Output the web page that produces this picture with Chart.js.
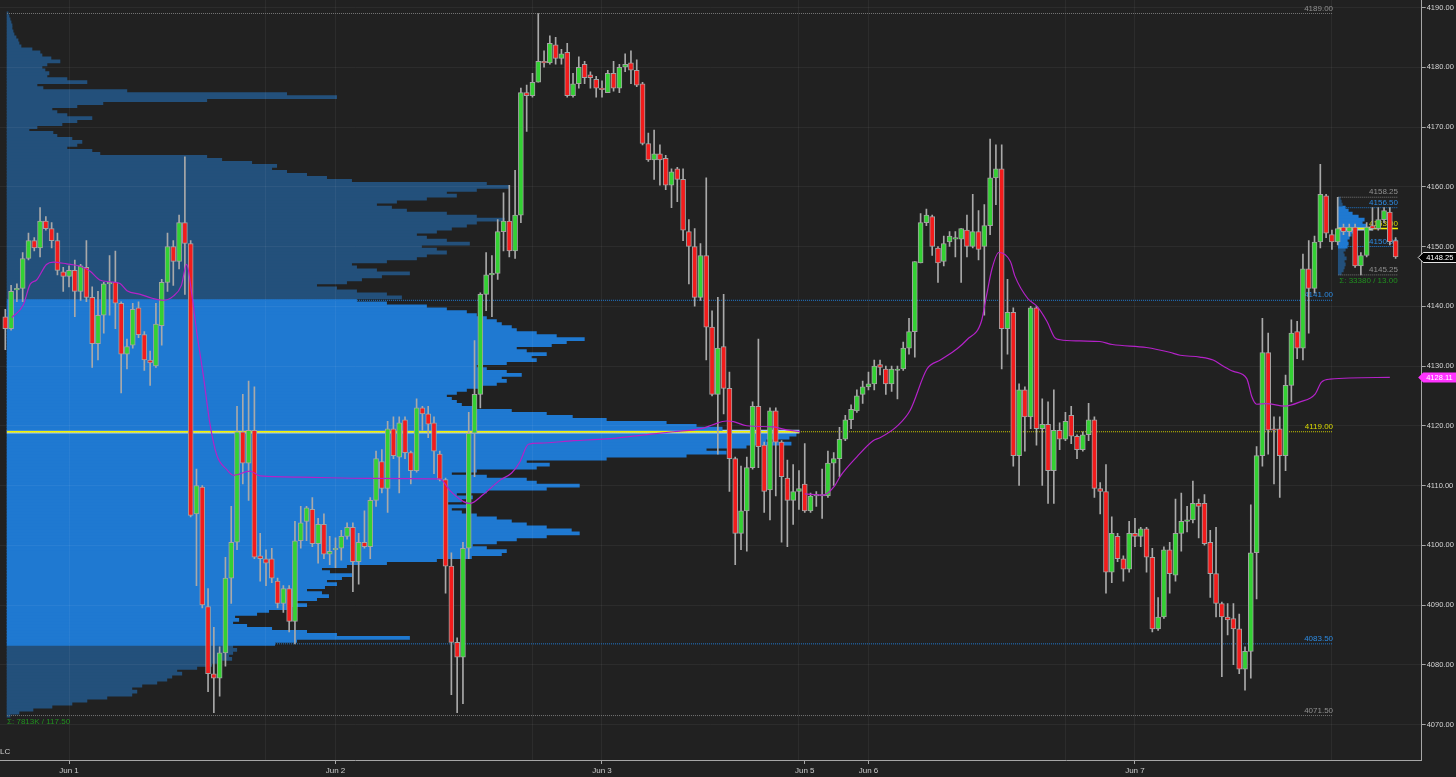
<!DOCTYPE html>
<html>
<head>
<meta charset="utf-8">
<title>ES 30 min - volume profile</title>
<style>
  html, body { margin: 0; padding: 0; background: #212121; }
  #wrap { position: relative; width: 1456px; height: 777px; background: #212121; overflow: hidden; }
  .layer { position: absolute; left: 0; top: 0; width: 1456px; height: 777px; }
</style>
<script src="https://cdn.jsdelivr.net/npm/chart.js@4.4.1/dist/chart.umd.min.js"></script>
</head>
<body>
<div id="wrap">
  <div class="layer"><canvas id="profileChart"></canvas></div>
  <div class="layer"><canvas id="priceChart"></canvas></div>
</div>
<script>
// ---------- data (30 min bars, index 0 = first bar on screen) ----------
const xTickIdx  = [11, 45, 57, 91, 103, 137, 138, 149, 183, 195, 229];
const xTickText = ['Jun 1', '', 'Jun 2', '', 'Jun 3', '', 'Jun 5', 'Jun 6', '', 'Jun 7', ''];
const yTicks = [4070, 4080, 4090, 4100, 4110, 4120, 4130, 4140, 4150, 4160, 4170, 4180, 4190];

const openP = [
  4138.25,4136.25,4142.75,4143.0,4148.0,4151.0,4149.75,4154.25,4153.0,4151.0,
  4145.75,4145.0,4146.0,4142.5,4146.5,4141.5,4133.75,4138.5,4143.75,4144.0,
  4140.5,4132.0,4133.5,4139.75,4135.25,4131.0,4130.0,4136.75,4144.0,4150.0,
  4147.5,4154.0,4150.5,4105.25,4109.75,4089.75,4078.5,4077.75,4082.0,4094.5,
  4100.5,4119.0,4113.75,4119.25,4098.25,4097.75,4097.75,4094.0,4090.25,4092.75,
  4087.25,4100.75,4104.0,4106.0,4100.25,4103.5,4098.5,4099.25,4099.5,4101.5,
  4103.0,4097.25,4100.5,4099.75,4107.5,4114.0,4109.5,4119.5,4114.75,4121.0,
  4115.5,4112.5,4123.0,4122.0,4120.5,4115.25,4111.0,4096.5,4083.75,4081.25,
  4099.5,4118.75,4125.25,4142.0,4145.25,4145.5,4152.5,4154.25,4149.25,4155.25,
  4175.75,4175.25,4177.5,4181.0,4180.75,4183.75,4181.5,4182.5,4175.25,4177.25,
  4180.5,4178.75,4178.0,4176.5,4175.75,4179.0,4176.5,4180.0,4180.75,4179.5,
  4177.25,4167.25,4164.5,4165.5,4164.75,4160.25,4163.0,4161.25,4152.5,4150.0,
  4141.5,4148.5,4136.5,4125.25,4133.25,4126.25,4114.5,4102.0,4105.75,4113.0,
  4123.25,4116.75,4109.25,4122.5,4117.25,4111.25,4107.5,4109.0,4110.25,4105.75,
  4108.25,4108.25,4108.25,4113.75,4114.5,4117.75,4121.0,4122.5,4125.25,4126.5,
  4127.0,4130.25,4129.5,4127.0,4129.25,4129.5,4133.0,4135.75,4147.25,4154.0,
  4155.0,4149.75,4147.5,4150.75,4151.25,4151.25,4152.75,4150.0,4152.5,4150.0,
  4153.5,4161.5,4163.0,4136.25,4139.0,4115.0,4126.0,4121.5,4139.75,4119.5,
  4120.25,4112.5,4119.25,4117.75,4121.75,4118.25,4116.0,4118.5,4121.0,4109.5,
  4109.0,4095.5,4101.5,4097.75,4096.0,4102.0,4101.5,4102.75,4098.0,4086.0,
  4088.0,4099.25,4095.0,4102.0,4104.0,4104.25,4107.0,4107.0,4100.5,4095.25,
  4090.25,4088.0,4087.75,4086.0,4079.25,4082.25,4098.75,4115.0,4132.25,4119.5,
  4119.5,4115.0,4126.75,4135.75,4133.0,4146.25,4143.0,4150.75,4158.5,4152.0,
  4150.75,4153.25,4152.5,4153.25,4146.75,4148.5,4153.5,4153.0,4154.5,4155.75,4151.0
];
const highP = [
  4139.5,4143.5,4143.75,4149.0,4152.25,4151.5,4156.5,4155.0,4154.0,4152.25,
  4146.5,4146.75,4147.75,4147.0,4151.0,4143.25,4142.5,4144.0,4148.5,4149.25,
  4140.75,4134.5,4140.5,4140.75,4135.75,4132.5,4140.5,4144.5,4152.25,4151.0,
  4155.25,4165.0,4151.0,4112.75,4110.0,4092.75,4086.25,4083.0,4098.0,4106.5,
  4123.25,4125.25,4127.5,4126.5,4102.0,4099.25,4099.5,4094.5,4093.25,4093.25,
  4104.0,4106.5,4106.5,4108.0,4104.5,4105.25,4101.5,4101.25,4102.5,4103.75,
  4103.75,4102.0,4105.75,4108.0,4115.75,4116.0,4120.75,4121.5,4121.5,4121.5,
  4115.75,4124.5,4123.25,4123.25,4121.5,4115.75,4111.25,4098.75,4084.5,4100.5,
  4122.25,4134.25,4142.25,4149.0,4148.5,4154.5,4159.0,4160.25,4162.75,4176.5,
  4177.0,4179.0,4189.0,4182.75,4185.25,4185.0,4183.0,4184.0,4179.0,4181.75,
  4181.0,4179.25,4178.5,4177.75,4179.5,4181.0,4180.5,4182.25,4182.75,4181.25,
  4177.5,4169.0,4169.5,4167.0,4165.25,4163.0,4163.25,4163.0,4154.5,4153.0,
  4150.5,4161.5,4139.25,4141.5,4142.0,4129.0,4114.75,4113.25,4114.75,4124.0,
  4134.5,4117.25,4123.0,4123.0,4117.5,4114.25,4113.5,4112.5,4117.0,4108.75,
  4109.0,4112.75,4115.75,4115.5,4119.75,4121.75,4123.5,4126.0,4127.5,4129.0,
  4131.0,4131.0,4130.0,4130.0,4130.0,4134.0,4138.0,4147.5,4155.5,4156.25,
  4155.25,4150.0,4151.75,4152.5,4152.5,4153.0,4155.25,4158.75,4156.0,4157.0,
  4168.0,4167.0,4167.0,4144.5,4139.75,4127.0,4126.5,4140.0,4140.0,4124.5,
  4124.0,4126.0,4120.5,4122.25,4123.25,4118.5,4119.0,4123.75,4121.5,4110.5,
  4113.5,4104.75,4102.0,4098.25,4104.0,4104.5,4103.0,4103.0,4099.5,4091.25,
  4099.75,4100.5,4107.75,4108.75,4106.5,4110.75,4107.75,4108.5,4102.5,4103.0,
  4090.5,4090.25,4090.25,4088.5,4083.0,4106.75,4116.5,4138.0,4135.5,4121.5,
  4121.5,4128.5,4137.75,4137.5,4148.75,4151.0,4151.75,4163.75,4158.75,4152.75,
  4158.25,4153.75,4153.75,4153.75,4149.0,4154.0,4156.5,4156.5,4156.5,4156.5,4151.5
];
const lowP = [
  4132.75,4136.0,4140.75,4140.75,4147.75,4149.25,4148.25,4152.75,4149.75,4145.25,
  4142.5,4143.25,4138.25,4141.0,4140.75,4129.75,4131.0,4135.5,4138.5,4136.25,
  4125.5,4129.5,4133.0,4134.75,4129.25,4126.75,4129.75,4133.5,4142.5,4143.5,
  4146.25,4142.0,4104.75,4093.25,4089.5,4075.5,4072.0,4074.75,4079.75,4090.25,
  4099.25,4110.25,4107.5,4097.75,4094.0,4093.25,4093.75,4089.5,4088.75,4085.5,
  4083.5,4099.5,4100.75,4099.75,4097.0,4097.75,4096.75,4096.25,4097.5,4101.0,
  4092.25,4093.5,4099.5,4097.75,4106.5,4108.75,4105.5,4114.5,4108.75,4114.5,
  4110.25,4112.25,4119.25,4118.0,4112.0,4110.75,4092.0,4075.0,4072.0,4073.5,
  4097.75,4111.5,4123.0,4139.25,4138.25,4144.5,4149.25,4148.25,4148.0,4154.0,
  4169.25,4175.0,4177.5,4180.0,4180.5,4180.5,4180.5,4175.0,4175.0,4176.5,
  4177.25,4176.5,4175.0,4175.0,4175.75,4176.0,4175.75,4179.25,4177.25,4176.75,
  4167.0,4164.25,4161.25,4160.25,4159.5,4156.5,4157.5,4151.0,4143.75,4140.0,
  4141.0,4131.0,4125.0,4115.25,4122.0,4109.0,4096.75,4099.25,4099.0,4112.75,
  4113.0,4105.5,4104.25,4108.25,4100.5,4099.75,4103.5,4106.0,4105.5,4105.5,
  4106.5,4104.5,4108.0,4110.0,4111.5,4117.5,4119.5,4122.25,4123.75,4126.0,
  4126.0,4128.5,4125.25,4125.75,4124.5,4129.25,4132.0,4131.5,4147.25,4153.5,
  4148.5,4144.0,4146.75,4150.0,4148.25,4144.0,4148.25,4149.75,4147.75,4138.5,
  4152.0,4157.0,4129.5,4132.0,4113.25,4110.0,4115.75,4119.5,4116.75,4110.0,
  4107.0,4107.0,4116.0,4117.5,4117.0,4114.5,4115.75,4117.5,4108.0,4105.25,
  4092.0,4093.75,4097.25,4094.0,4095.5,4099.75,4099.75,4095.5,4085.5,4085.75,
  4087.75,4092.0,4094.0,4099.0,4102.25,4103.75,4101.25,4100.0,4091.25,4088.0,
  4078.0,4085.0,4080.0,4078.5,4075.75,4077.75,4091.0,4113.25,4115.25,4110.25,
  4108.0,4112.5,4124.0,4131.25,4131.0,4135.5,4142.25,4149.75,4151.5,4149.5,
  4150.25,4152.0,4151.75,4146.5,4145.25,4148.25,4152.75,4152.75,4154.0,4150.25,4148.0
];
const closeP = [
  4136.25,4142.5,4143.0,4148.0,4151.0,4149.75,4154.25,4153.0,4151.0,4146.0,
  4145.0,4146.0,4142.5,4146.75,4141.5,4133.75,4138.5,4143.75,4144.0,4140.5,
  4132.0,4133.25,4139.5,4135.25,4131.0,4130.5,4137.0,4144.0,4150.0,4147.5,
  4154.0,4150.5,4105.0,4110.0,4090.0,4078.5,4077.75,4082.0,4094.5,4100.5,
  4119.0,4113.75,4119.25,4098.0,4097.75,4097.0,4094.5,4090.25,4092.75,4087.25,
  4100.75,4103.75,4106.25,4100.25,4103.5,4098.5,4099.0,4099.5,4101.5,4103.0,
  4097.25,4100.5,4099.75,4107.5,4114.5,4109.5,4119.5,4115.0,4120.5,4115.5,
  4112.5,4123.0,4122.0,4120.25,4115.75,4111.0,4096.5,4083.75,4081.25,4099.5,
  4118.75,4125.25,4142.0,4145.25,4145.5,4152.5,4154.25,4149.25,4155.25,4175.75,
  4175.25,4177.5,4181.0,4180.75,4184.0,4181.5,4182.25,4175.25,4177.25,4180.0,
  4178.25,4178.25,4176.5,4176.25,4179.0,4176.5,4180.0,4180.5,4179.5,4177.0,
  4167.25,4164.5,4165.5,4164.5,4160.25,4162.5,4161.25,4152.75,4150.0,4141.5,
  4148.5,4136.5,4125.25,4133.0,4126.25,4114.5,4102.0,4105.75,4113.0,4123.25,
  4116.5,4109.0,4122.5,4117.25,4111.5,4107.5,4109.0,4109.5,4105.75,4108.25,
  4108.5,4108.5,4113.75,4114.5,4117.75,4121.0,4122.75,4125.0,4126.5,4127.0,
  4130.0,4129.75,4127.0,4129.5,4129.5,4133.0,4135.75,4147.5,4154.0,4155.25,
  4150.0,4147.25,4150.5,4151.75,4151.5,4153.0,4150.0,4152.5,4149.5,4153.5,
  4161.5,4163.0,4136.25,4139.0,4115.0,4126.0,4121.5,4139.75,4119.5,4120.25,
  4112.5,4119.25,4117.75,4120.75,4118.25,4116.0,4118.5,4121.0,4109.5,4109.0,
  4095.5,4102.0,4097.75,4096.0,4102.0,4101.5,4102.75,4098.0,4086.0,4088.0,
  4099.25,4095.25,4102.0,4104.0,4104.25,4107.0,4106.5,4100.25,4095.25,4090.25,
  4088.0,4087.5,4086.0,4079.25,4082.25,4098.75,4115.0,4132.25,4119.25,4119.25,
  4115.0,4126.75,4135.5,4133.0,4146.25,4143.0,4150.75,4158.75,4152.25,4150.75,
  4153.0,4152.5,4153.25,4146.75,4148.5,4153.25,4153.0,4154.5,4156.0,4150.75,4148.25
];

// VWAP: [bar index, price]; null = reset at the Sunday open
const vwapPts = [
  [1.1,4138.1],[3.1,4140.2],[4.3,4143.7],[5.4,4144.4],[7.1,4147.0],[8.3,4147.4],[10.6,4147.1],[12.9,4146.7],[14.6,4145.9],[16.3,4144.4],
  [18.1,4144.1],[19.8,4143.8],[21.0,4142.6],[23.3,4142.0],[25.5,4141.3],[27.3,4141.0],[29.0,4141.7],[30.4,4143.5],[31.3,4147.0],[32.2,4142.0],
  [33.0,4136.0],[34.2,4128.3],[35.3,4120.5],[36.5,4115.1],[38.2,4112.7],[39.4,4111.7],[42.2,4112.4],[44.0,4111.6],[50.9,4111.4],[62.4,4111.2],
  [75.0,4111.1],[76.8,4109.1],[79.1,4107.3],[80.2,4107.0],[82.5,4108.5],[85.4,4110.9],[87.4,4112.1],[88.8,4113.9],[90.3,4116.9],[92.3,4117.1],
  [98.1,4117.5],[103.8,4117.8],[109.6,4118.4],[115.3,4119.0],[120.5,4119.6],[122.2,4120.2],[124.5,4120.8],[125.7,4120.7],[128.0,4120.0],[132.6,4119.8],
  [134.9,4119.3],[137.2,4119.0],[137.6,null],
  [138.0,4108.6],[141.2,4108.4],[143.2,4110.0],[144.1,4111.5],[147.0,4114.8],[149.8,4117.5],[151.0,4118.0],[153.9,4119.9],[156.2,4122.6],[159.1,4129.5],
  [161.4,4131.0],[164.3,4132.9],[166.0,4134.4],[168.5,4137.5],[169.4,4141.9],[170.3,4146.2],[171.5,4149.0],[173.5,4147.5],[174.3,4145.0],[176.5,4141.3],
  [178.1,4140.0],[179.8,4137.5],[181.2,4134.7],[182.1,4134.4],[185.5,4134.2],[188.9,4134.1],[191.1,4133.6],[197.0,4133.1],[201.0,4132.3],[202.8,4131.8],
  [206.2,4131.5],[208.5,4131.0],[210.2,4130.0],[212.0,4129.1],[214.3,4127.9],[215.2,4124.8],[216.0,4123.6],[217.7,4123.7],[220.9,4123.3],[223.5,4124.0],
  [226.1,4125.3],[227.2,4127.3],[228.7,4127.8],[239.0,4128.1]
];
const vwapLast = 4128.11;

// main composite profile, 0.5 pt rows from 4071.50 up to 4189.00 (relative volume)
const profileLow = 4071.5;
const profileTick = 0.5;
const profileVol = [
  3,12,26,45,65,80,100,125,130,125,
  135,150,160,165,175,170,190,205,215,225,
  222,226,230,226,268,290,403,330,300,265,
  240,226,232,228,250,262,280,300,290,310,
  322,315,300,318,330,320,335,345,323,315,
  340,380,430,465,495,500,480,466,490,510,
  540,573,565,540,520,505,490,470,455,445,
  460,440,455,466,450,480,540,573,530,520,
  480,445,470,530,543,520,600,680,720,700,
  740,785,760,783,790,793,716,690,660,600,
  566,540,505,470,455,450,445,440,450,460,
  475,490,500,495,515,500,480,470,500,530,
  525,540,520,510,545,560,578,550,530,510,
  505,495,490,480,470,460,440,420,380,350,
  395,380,350,330,310,340,355,375,403,370,
  350,345,380,410,420,440,430,415,463,440,
  420,410,430,445,460,470,498,470,440,400,
  385,370,390,420,450,440,470,503,480,345,
  320,300,280,265,270,245,215,200,93,85,
  60,70,75,65,50,46,22,30,55,70,
  85,60,50,45,70,96,200,330,280,120,
  36,30,80,60,40,42,38,35,40,53,
  44,35,33,25,14,12,11,9,7,6,
  5,5,4,3,2,1
];
const valueArea = [4083.5, 4141.0];
const pocPrice = 4119.0;
const mainLevels = [4189.00, 4141.00, 4119.00, 4083.50, 4071.50];
const mainKinds  = ['range', 'va', 'poc', 'va', 'range'];
const mainSession = [0.3, 229.2];
const mainTotal = 'Σ: 7813K / 117.50';

// overnight profile (Jun 7 evening), 0.5 pt rows from 4145.50 up to 4158.00
const ovnLow = 4145.5;
const ovnVol = [3,5,6,7,6,8,6,5,7,9,10,9,11,13,15,34,28,24,26,20,14,10,7,4,3,2];
const ovnValueArea = [4150.0, 4156.5];
const ovnPoc = 4153.0;
const ovnLevels = [4158.25, 4156.50, 4153.00, 4150.00, 4145.25];
const ovnKinds  = ['range', 'va', 'poc', 'va', 'range'];
const ovnSession = [230.1, 240.4];
const ovnTotal = 'Σ: 33380 / 13.00';

// ---------- styling ----------
const FONT = 'Liberation Sans';
const GRID = 'rgba(255,255,255,0.05)';
const X_MIN = -0.915, X_MAX = 244.5;
const Y_MIN = 4064.06, Y_MAX = 4191.26;
const mainVolPerBar = 5.8;
const ovnVolPerBar = 5.8;
const VA_FILL = '#1f79d1', OUT_FILL = '#23507b', POC_FILL = '#a9cdf2';
const UP = '#33d133', DOWN = '#f21c1c';
const LINE_COL  = { range: '#767676', va: '#2079d0', poc: '#c9c900' };
const LABEL_COL = { range: '#909090', va: '#2c8ae2', poc: '#dada00' };
const SIGMA_COL = '#21901f';

Chart.defaults.font.family = FONT;

function profileRows(low, vols, base, perBar) {
  return vols.map((v, k) => ({ y: low + k * profileTick, x: [base, base + v / perBar] }));
}
function profileColors(low, vols, va, poc) {
  return vols.map((v, k) => {
    const p = low + k * profileTick;
    if (p === poc) return POC_FILL;
    return (p >= va[0] && p <= va[1]) ? VA_FILL : OUT_FILL;
  });
}

// ---------- profile layer (underneath) ----------
new Chart(document.getElementById('profileChart'), {
  type: 'bar',
  data: {
    datasets: [
      {
        data: profileRows(profileLow, profileVol, mainSession[0], mainVolPerBar),
        backgroundColor: profileColors(profileLow, profileVol, valueArea, pocPrice),
        borderWidth: 0, barThickness: 3.1, grouped: false
      },
      {
        data: profileRows(ovnLow, ovnVol, ovnSession[0], ovnVolPerBar),
        backgroundColor: profileColors(ovnLow, ovnVol, ovnValueArea, ovnPoc),
        borderWidth: 0, barThickness: 3.1, grouped: false
      }
    ]
  },
  options: {
    indexAxis: 'y',
    responsive: true,
    maintainAspectRatio: false,
    animation: false,
    events: [],
    layout: { padding: { left: 0, top: 0, right: 34.3, bottom: 17 } },
    plugins: { legend: { display: false }, tooltip: { enabled: false } },
    scales: {
      x: { type: 'linear', min: X_MIN, max: X_MAX, display: false, offset: false },
      y: { type: 'linear', min: Y_MIN, max: Y_MAX, display: false, offset: false }
    }
  }
});

// ---------- price layer ----------
function levelLine(price, from, to, color, dash, width, order) {
  return {
    type: 'line',
    data: [{ x: from, y: price }, { x: to, y: price }],
    borderColor: color, borderWidth: width, borderDash: dash,
    pointRadius: 0, order: order
  };
}

const levelSets = [];
mainLevels.forEach((p, k) => levelSets.push(levelLine(p, mainSession[0], mainSession[1], LINE_COL[mainKinds[k]], [1, 1], 1, 10)));
ovnLevels.forEach((p, k) => levelSets.push(levelLine(p, ovnSession[0], ovnSession[1], LINE_COL[ovnKinds[k]], [1, 1], 1, 10)));

const pocVol = profileVol[Math.round((pocPrice - profileLow) / profileTick)];
levelSets.push(levelLine(pocPrice, mainSession[0], mainSession[0] + pocVol / mainVolPerBar, '#f0f000', [], 1.5, 9));
levelSets.push(levelLine(ovnPoc, ovnSession[0], ovnSession[1], '#f0f000', [], 1.5, 9));

const candleColors = closeP.map((c, i) => c >= openP[i] ? UP : DOWN);

const textPlugin = {
  id: 'levelText',
  beforeDatasetsDraw(chart) {
    const { ctx, scales: { x, y } } = chart;
    ctx.save();
    ctx.font = '8px ' + FONT;
    ctx.textAlign = 'right';
    ctx.textBaseline = 'bottom';
    mainLevels.forEach((p, k) => {
      ctx.fillStyle = LABEL_COL[mainKinds[k]];
      ctx.fillText(p.toFixed(2), x.getPixelForValue(mainSession[1]), y.getPixelForValue(p) - 1);
    });
    ovnLevels.forEach((p, k) => {
      ctx.fillStyle = LABEL_COL[ovnKinds[k]];
      ctx.fillText(p.toFixed(2), x.getPixelForValue(ovnSession[1]), y.getPixelForValue(p) - 1);
    });
    ctx.textAlign = 'left';
    ctx.textBaseline = 'top';
    ctx.fillStyle = SIGMA_COL;
    ctx.fillText(mainTotal, x.getPixelForValue(mainSession[0]), y.getPixelForValue(mainLevels[4]) + 2);
    ctx.fillText(ovnTotal, x.getPixelForValue(ovnSession[0]) + 1, y.getPixelForValue(ovnLevels[4]) + 2);
    ctx.textBaseline = 'middle';
    ctx.fillStyle = '#cfcfcf';
    ctx.fillText('LC', 0, chart.chartArea.bottom - 8);
    ctx.restore();
  },
  afterDraw(chart) {
    const { ctx, scales: { y }, chartArea } = chart;
    function marker(price, text, fill, stroke, color) {
      const py = Math.round(y.getPixelForValue(price)) + 0.5;
      const tip = chartArea.right - 3.5, h = 5;
      ctx.beginPath();
      ctx.moveTo(tip, py);
      ctx.lineTo(tip + 5, py - h);
      ctx.lineTo(chart.width + 2, py - h);
      ctx.lineTo(chart.width + 2, py + h);
      ctx.lineTo(tip + 5, py + h);
      ctx.closePath();
      ctx.fillStyle = fill;
      ctx.fill();
      if (stroke) { ctx.strokeStyle = stroke; ctx.lineWidth = 1; ctx.stroke(); }
      ctx.fillStyle = color;
      ctx.font = '7.5px ' + FONT;
      ctx.textAlign = 'left';
      ctx.textBaseline = 'middle';
      ctx.fillText(text, tip + 8, py + 0.5);
    }
    ctx.save();
    marker(closeP[closeP.length - 1], closeP[closeP.length - 1].toFixed(2), '#000000', '#e6e6e6', '#ffffff');
    marker(vwapLast, vwapLast.toFixed(2), '#ff33ff', null, '#ffffff');
    ctx.restore();
  }
};

new Chart(document.getElementById('priceChart'), {
  type: 'bar',
  data: {
    datasets: [
      ...levelSets,
      {
        type: 'bar',
        data: closeP.map((c, i) => ({ x: i, y: [lowP[i], highP[i]] })),
        backgroundColor: '#a9a9a9',
        borderWidth: 0, barThickness: 1, grouped: false, order: 4
      },
      {
        type: 'bar',
        data: closeP.map((c, i) => ({ x: i, y: [openP[i], c] })),
        backgroundColor: candleColors,
        borderColor: '#a3a3a3', borderWidth: 1, borderSkipped: false,
        barThickness: 5, minBarLength: 1, grouped: false, order: 3
      },
      {
        type: 'line',
        data: vwapPts.map(p => ({ x: p[0], y: p[1] })),
        borderColor: '#b422c8', borderWidth: 1.2, pointRadius: 0,
        cubicInterpolationMode: 'monotone', spanGaps: false, order: 1
      }
    ]
  },
  options: {
    responsive: true,
    maintainAspectRatio: false,
    animation: false,
    events: [],
    layout: { padding: 0 },
    plugins: { legend: { display: false }, tooltip: { enabled: false } },
    scales: {
      x: {
        type: 'linear', min: X_MIN, max: X_MAX, offset: false,
        afterBuildTicks: s => { s.ticks = xTickIdx.map(v => ({ value: v })); },
        afterFit: s => { s.height = 17; s.paddingLeft = 0; s.paddingRight = 0; },
        ticks: {
          autoSkip: false, maxRotation: 0, padding: 2, color: '#cccccc',
          font: { family: FONT, size: 8 },
          callback: (v, i) => xTickText[i]
        },
        grid: {
          offset: false,
          color: ctx => xTickText[ctx.index] === 'Jun 5' ? 'transparent' : GRID,
          tickColor: ctx => xTickText[ctx.index] ? '#a6a6a6' : 'transparent',
          tickLength: 4
        },
        border: { color: '#a6a6a6', width: 1 }
      },
      y: {
        type: 'linear', position: 'right', min: Y_MIN, max: Y_MAX,
        afterBuildTicks: s => { s.ticks = yTicks.map(v => ({ value: v })); },
        afterFit: s => { s.width = 34.3; s.paddingTop = 0; s.paddingBottom = 0; },
        ticks: {
          padding: 1, color: '#d6d6d6',
          font: { family: FONT, size: 7.5 },
          callback: v => v.toFixed(2)
        },
        grid: { color: GRID, tickColor: '#a6a6a6', tickLength: 4 },
        border: { color: '#a6a6a6', width: 1 }
      }
    }
  },
  plugins: [textPlugin]
});
</script>
</body>
</html>
